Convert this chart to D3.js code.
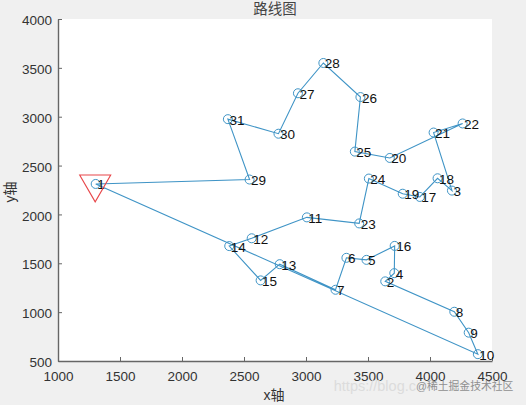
<!DOCTYPE html>
<html><head><meta charset="utf-8">
<script src="https://cdn.jsdelivr.net/npm/d3@7/dist/d3.min.js"></script>
<style>html,body{margin:0;padding:0;background:#f0f0f0;overflow:hidden}svg{display:block}</style>
</head><body><svg id="c" width="526" height="405"></svg>
<script>
const cityX=[1304,3639,4177,3712,3488,3326,3238,4196,4312,4386,3007,2562,2788,2381,2634,3715,3918,4061,3780,3676,4029,4263,3429,3507,3394,3439,2935,3140,2545,2778,2370];
const cityY=[2312,1315,2244,1399,1535,1556,1229,1004,790,570,1970,1756,1491,1676,1325,1678,2179,2370,2212,2578,2838,2931,1908,2367,2643,3201,3240,3550,2357,2826,2975];
const route=[1,29,31,30,27,28,26,25,20,22,21,3,18,17,19,24,23,11,12,14,15,13,7,6,5,16,4,2,8,9,10,1];
const xTicks=[1000,1500,2000,2500,3000,3500,4000,4500];
const yTicks=[500,1000,1500,2000,2500,3000,3500,4000];
const startCity=1;
const titleText="路线图",xLabel="x轴",yLabel="y轴",wmUrl="https://blog.c",wmName="@稀土掘金技术社区";
const cn='"Liberation Sans","Noto Sans CJK SC",sans-serif';
const svg=d3.select("#c");
const x=d3.scaleLinear().domain([1000,4500]).range([58,492]);
const y=d3.scaleLinear().domain([500,4000]).range([361,19]);
svg.append("rect").attr("x",58).attr("y",19).attr("width",434).attr("height",342).attr("fill","#fff");
const ax=svg.append("g").attr("transform","translate(0,361)").call(d3.axisBottom(x).tickValues(xTicks).tickFormat(d3.format("d")).tickSizeInner(-4).tickSizeOuter(0));
const ay=svg.append("g").attr("transform","translate(58,0)").call(d3.axisLeft(y).tickValues(yTicks).tickFormat(d3.format("d")).tickSizeInner(-4).tickSizeOuter(0));
[ax,ay].forEach(g=>{g.selectAll("line").attr("stroke","#666").attr("stroke-width",1);
 g.select("path").attr("stroke","#666").attr("stroke-width",1.4);
 g.selectAll("text").attr("fill","#333").style("font-family",cn).style("font-size","13.5px");});
ax.selectAll("text").attr("y",10);
ay.selectAll("text").attr("x",-6).attr("dy","0.42em");
const color="#3f94c6";
const line=d3.line().x(c=>x(cityX[c-1])).y(c=>y(cityY[c-1]));
svg.append("path").attr("d",line(route)).attr("fill","none").attr("stroke",color).attr("stroke-width",1.1);
const ids=d3.range(1,cityX.length+1);
svg.selectAll("circle.m").data(ids).join("circle").attr("class","m")
 .attr("cx",c=>x(cityX[c-1])).attr("cy",c=>y(cityY[c-1])).attr("r",4.5)
 .attr("fill","none").attr("stroke",color).attr("stroke-width",1);
svg.selectAll("text.l").data(ids).join("text").attr("class","l")
 .attr("x",c=>x(cityX[c-1])+1.5).attr("y",c=>y(cityY[c-1])+5.5)
 .attr("fill","#111").style("font-family",cn).style("font-size","13.5px").text(c=>c);
svg.append("path").attr("d",d3.symbol().type(d3.symbolTriangle).size(417)())
 .attr("transform",`translate(${x(cityX[startCity-1])-0.5},${y(cityY[startCity-1])}) rotate(180)`)
 .attr("fill","none").attr("stroke","#e8474a").attr("stroke-width",1.1);
svg.append("text").attr("x",275).attr("y",14).attr("text-anchor","middle").attr("fill","#444").style("font-family",'"Noto Sans CJK SC",serif').style("font-size","14.5px").text(titleText);
svg.append("text").attr("x",274).attr("y",400).attr("text-anchor","middle").attr("fill","#333").style("font-family",cn).style("font-size","14px").text(xLabel);
svg.append("text").attr("transform","translate(15,192) rotate(-90)").attr("text-anchor","middle").attr("fill","#333").style("font-family",cn).style("font-size","14px").text(yLabel);
svg.append("text").attr("x",416).attr("y",391).attr("text-anchor","end").attr("fill","#dcdcdc").style("font-family",cn).style("font-size","14.5px").text(wmUrl);
svg.append("text").attr("x",416).attr("y",390).attr("fill","#8f8f8f").style("font-family",cn).style("font-size","10.8px").text(wmName);
</script></body></html>
